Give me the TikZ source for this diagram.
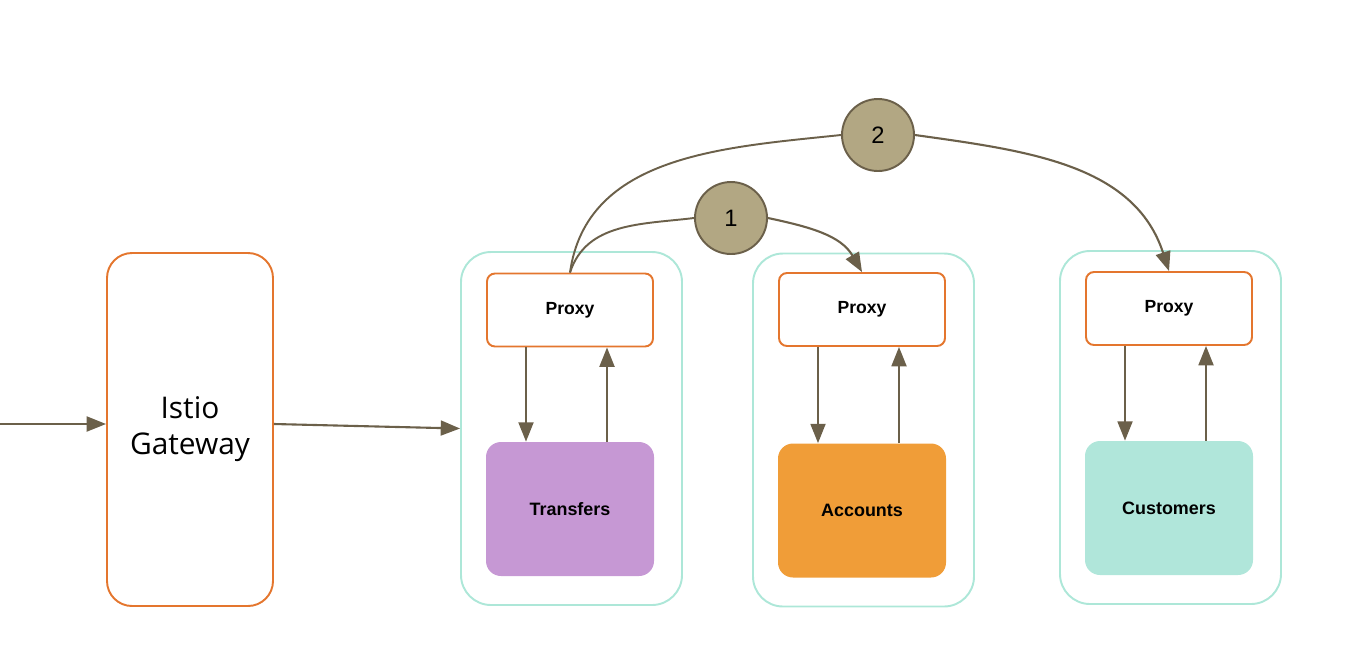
\documentclass[tikz,border=0pt]{standalone}
\usepackage{fontspec}
\setmainfont{Liberation Sans}
\newfontfamily\gwfont{Open Sans}
\usetikzlibrary{arrows.meta}
\definecolor{edgeorange}{HTML}{E4762E}
\definecolor{podteal}{HTML}{ADE7D8}
\definecolor{linebrown}{HTML}{6B604A}
\definecolor{badgefill}{HTML}{B2A783}
\definecolor{transfercol}{HTML}{C698D4}
\definecolor{accountcol}{HTML}{F09D38}
\definecolor{customercol}{HTML}{B0E6DA}

\begin{document}
\begin{tikzpicture}[
		pod/.style = {draw=podteal, line width=1.1pt, rounded corners=0.6cm, minimum width=4.42cm, minimum height=7.06cm},
		proxybox/.style = {draw=edgeorange, line width=1.1pt, fill=white, rounded corners=0.16cm, minimum width=3.32cm, minimum height=1.46cm, font=\bfseries\fontsize{10}{12}\selectfont},
		svc/.style = {rounded corners=0.3cm, minimum width=3.36cm, minimum height=2.68cm, font=\bfseries\fontsize{10.2}{12}\selectfont},
		badge/.style = {circle, draw=linebrown, line width=1.1pt, fill=badgefill, minimum size=1.44cm, inner sep=0pt, font=\fontsize{13.5}{16}\selectfont},
		flow/.style = {draw=linebrown, line width=1.2pt, -{Triangle[length=11pt, width=8.5pt]}}
	]
		\useasboundingbox (0,0) rectangle (27.2,-13.24);
		\node[draw=edgeorange, line width=1.1pt, rounded corners=0.5cm, minimum width=3.32cm, minimum height=7.06cm, align=center, font=\gwfont\fontsize{17}{20.4}\selectfont] (gw) at (3.80,-8.59) {Istio\\Gateway};
		\node[pod] (pod1) at (11.43,-8.57) {};
		\node[pod] (pod2) at (17.27,-8.60) {};
		\node[pod] (pod3) at (23.41,-8.55) {};
		\node[proxybox] (proxy1) at (11.40,-6.20) {Proxy};
		\node[proxybox] (proxy2) at (17.24,-6.19) {Proxy};
		\node[proxybox] (proxy3) at (23.38,-6.17) {Proxy};
		\node[svc, fill=transfercol] (transfers) at (11.40,-10.18) {Transfers};
		\node[svc, fill=accountcol] (accounts) at (17.24,-10.21) {Accounts};
		\node[svc, fill=customercol] (customers) at (23.38,-10.16) {Customers};
		\node[badge] (one) at (14.62,-4.36) {1};
		\node[badge] (two) at (17.56,-2.70) {2};
		\coordinate (client) at (0,-8.48);
		\draw[flow] (client) -- (client -| gw.west);
		\draw[flow] (client -| gw.east) -- (pod1.west);
		\foreach \p/\s in {proxy1/transfers, proxy2/accounts, proxy3/customers} {
			\draw[flow] ([xshift=-0.88cm]\p.south) -- ([xshift=-0.88cm]\s.north);
			\draw[flow] ([xshift=0.74cm]\s.north) -- ([xshift=0.74cm]\p.south);
		}
		\draw[draw=linebrown, line width=1.1pt] (proxy1.north) to[out=72, in=187] (one.west);
		\draw[flow] (one.east) to[out=-12, in=120] (proxy2.north);
		\draw[draw=linebrown, line width=1.1pt] (proxy1.north) to[out=82, in=186] (two.west);
		\draw[flow] (two.east) to[out=-8, in=108] (proxy3.north);
	\end{tikzpicture}
\end{document}
